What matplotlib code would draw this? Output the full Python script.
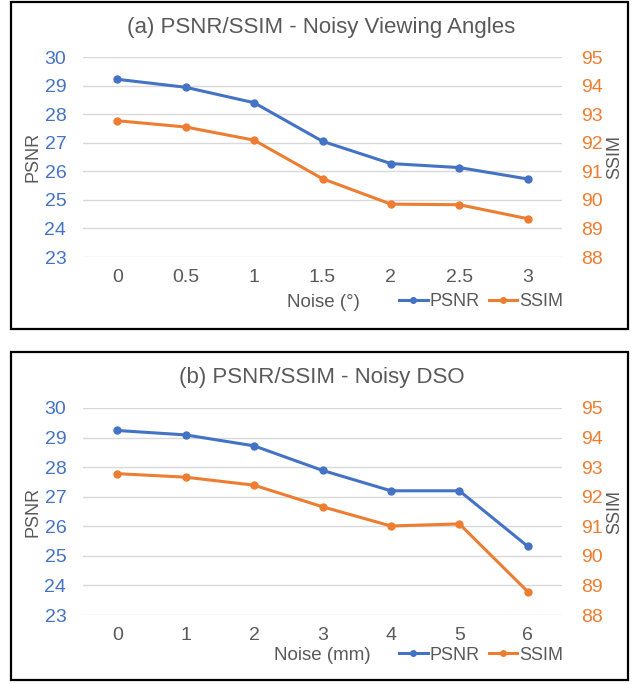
import matplotlib.pyplot as plt
from matplotlib.patches import Rectangle
from matplotlib.lines import Line2D

plt.rcParams['font.family'] = ['Liberation Sans', 'DejaVu Sans']

# panel (a): noisy viewing angles
angle_noise = ['0', '0.5', '1', '1.5', '2', '2.5', '3']
angle_psnr = [29.22, 28.94, 28.40, 27.05, 26.27, 26.13, 25.73]
angle_ssim = [92.77, 92.55, 92.09, 90.74, 89.85, 89.83, 89.34]

# panel (b): noisy DSO
dso_noise = ['0', '1', '2', '3', '4', '5', '6']
dso_psnr = [29.24, 29.09, 28.72, 27.89, 27.20, 27.20, 25.32]
dso_ssim = [92.78, 92.66, 92.39, 91.66, 91.01, 91.08, 88.79]

psnr_ticks = [23, 24, 25, 26, 27, 28, 29, 30]
ssim_ticks = [88, 89, 90, 91, 92, 93, 94, 95]

BLUE = '#4472C4'
ORANGE = '#ED7D31'
GRAY = '#595959'
GRID = '#D9D9D9'

W, H = 634, 684
fig = plt.figure(figsize=(W / 100, H / 100), dpi=100)


def fx(px):
    return px / W


def fy(py):
    return 1 - py / H


def panel(box, ax_rect, title, title_y, labels, psnr, ssim, xlabel, xlabel_x, label_y):
    x0, y0, x1, y1 = box
    fig.patches.append(Rectangle((fx(x0), fy(y1)), fx(x1 - x0), (y1 - y0) / H,
                                 transform=fig.transFigure, fill=False,
                                 edgecolor='black', linewidth=1.6))
    l, t, r, b = ax_rect
    ax = fig.add_axes([fx(l), fy(b), fx(r - l), (b - t) / H])
    ax2 = ax.twinx()
    xs = range(len(labels))
    ax.plot(xs, psnr, color=BLUE, lw=2.2, marker='o', ms=5, zorder=3)
    ax2.plot(xs, ssim, color=ORANGE, lw=2.2, marker='o', ms=5, zorder=3)
    ax.set_ylim(23, 30)
    ax2.set_ylim(88, 95)
    ax.set_xlim(-0.5, len(labels) - 0.5)
    ax.set_yticks(psnr_ticks)
    ax2.set_yticks(ssim_ticks)
    ax.set_xticks(list(xs))
    ax.set_xticklabels(labels)
    ax.grid(axis='y', color=GRID, lw=1)
    ax.set_axisbelow(True)
    for a in (ax, ax2):
        for s in a.spines.values():
            s.set_visible(False)
    ax.tick_params(axis='y', length=0, labelcolor=BLUE, labelsize=14, pad=12)
    ax2.tick_params(axis='y', length=0, labelcolor=ORANGE, labelsize=14, pad=14)
    ax.tick_params(axis='x', length=0, labelcolor=GRAY, labelsize=14, pad=9)
    ax.set_ylabel('PSNR', color=GRAY, fontsize=13, labelpad=2)
    ax2.set_ylabel('SSIM', color=GRAY, fontsize=13, labelpad=2)
    fig.text(fx((x0 + x1) / 2 + 2), fy(title_y), title, ha='center', va='center',
             color=GRAY, fontsize=16)
    fig.text(fx(xlabel_x), fy(label_y), xlabel, ha='center', va='center',
             color=GRAY, fontsize=13.5)
    handles = [Line2D([], [], color=BLUE, lw=2.2, marker='o', ms=4),
               Line2D([], [], color=ORANGE, lw=2.2, marker='o', ms=4)]
    fig.legend(handles, ['PSNR', 'SSIM'], loc='center', frameon=False,
               bbox_to_anchor=(fx(481), fy(label_y - 1)), ncol=2, fontsize=13,
               handlelength=1.6, handletextpad=0.1, columnspacing=0.5,
               labelcolor=GRAY)


panel((11, 2, 628, 329), (83, 57, 562, 257), '(a) PSNR/SSIM - Noisy Viewing Angles', 27,
      angle_noise, angle_psnr, angle_ssim, 'Noise (°)', 323, 303)
panel((11, 352, 628, 680), (83, 408, 562, 615), '(b) PSNR/SSIM - Noisy DSO', 377,
      dso_noise, dso_psnr, dso_ssim, 'Noise (mm)', 322, 656)

fig.savefig('out.png', dpi=100)
